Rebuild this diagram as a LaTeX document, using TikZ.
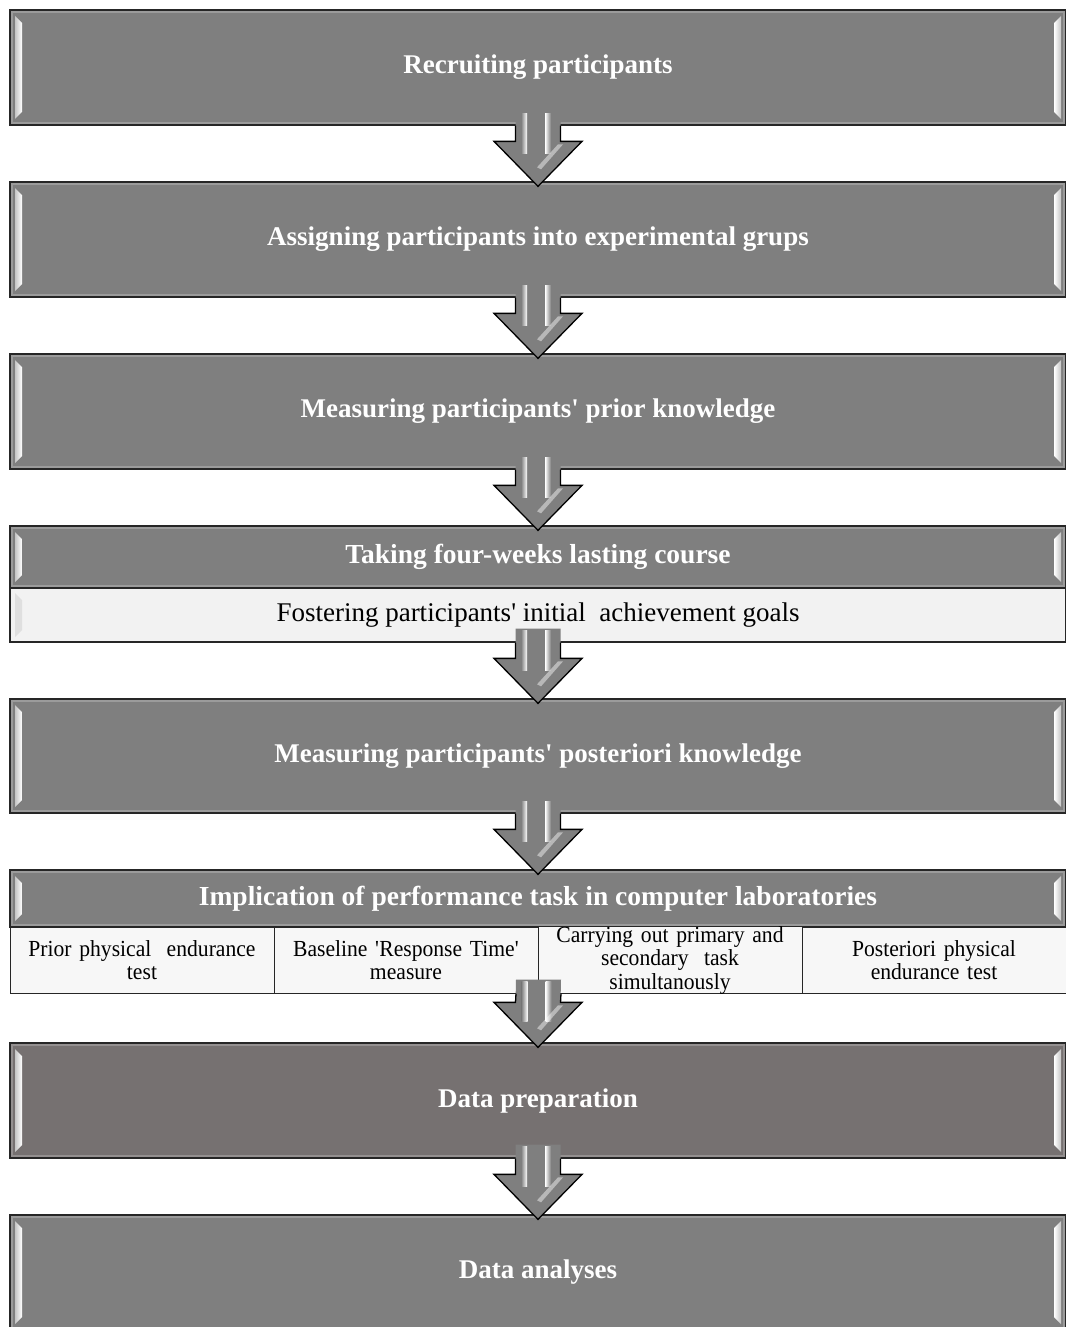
\documentclass[tikz,border=0pt]{standalone}
\usepackage{fontspec}
\setmainfont{Liberation Serif}
\newfontfamily\cellfont[FakeStretch=0.94]{Liberation Serif}
\usetikzlibrary{calc}
\definecolor{boxgray}{RGB}{127,127,127}
\definecolor{prepgray}{RGB}{118,113,113}
\definecolor{subgray}{RGB}{242,242,242}
\definecolor{edgegray}{RGB}{38,38,38}
\newcommand\q{\textquotesingle}
\newcommand\boxbevel{%
  \draw[line width=3pt, draw=white, opacity=0.22]
    ([shift={(1.5,1.5)}]path picture bounding box.north west) rectangle
    ([shift={(-1.5,-1.5)}]path picture bounding box.south east);
  \shade[left color=white!55!gray, right color=white]
    ([shift={(5,6)}]path picture bounding box.north west) --
    ([shift={(12,13)}]path picture bounding box.north west) --
    ([shift={(12,-13)}]path picture bounding box.south west) --
    ([shift={(5,-6)}]path picture bounding box.south west) -- cycle;
  \shade[right color=white!55!gray, left color=white]
    ([shift={(-5,6)}]path picture bounding box.north east) --
    ([shift={(-12,13)}]path picture bounding box.north east) --
    ([shift={(-12,-13)}]path picture bounding box.south east) --
    ([shift={(-5,-6)}]path picture bounding box.south east) -- cycle;
}
\newcommand\lightbevel{%
  \shade[left color=subgray!92!black, right color=white]
    ([shift={(5,5)}]path picture bounding box.north west) --
    ([shift={(12,12)}]path picture bounding box.north west) --
    ([shift={(12,-12)}]path picture bounding box.south west) --
    ([shift={(5,-5)}]path picture bounding box.south west) -- cycle;
}
% block arrow between two points (start = bottom of upper box, end = top of lower box)
\newcommand\blockarrow[2]{%
  \path #1 coordinate (as) #2 coordinate (at);
  \fill[boxgray]
    ($(as)+(-22.5,-14)$) -- ($(at)+(-22.5,-40)$) -- ($(at)+(-44,-40)$) --
    ($(at)+(0,5)$) -- ($(at)+(44,-40)$) -- ($(at)+(22.5,-40)$) --
    ($(as)+(22.5,-14)$) -- cycle;
  \shade[left color=boxgray, right color=white]
    ($(as)+(-17,-12)$) rectangle ($(as)+(-11,28)$);
  \shade[left color=white, right color=boxgray]
    ($(as)+(7,-12)$) rectangle ($(as)+(13,28)$);
  \fill[white, opacity=0.45]
    ($(at)+(20,-37)$) -- ($(at)+(25,-37)$) -- ($(at)+(3,-12)$) -- ($(at)+(-1,-14)$) -- cycle;
  \draw[arrowline]
    ($(as)+(-22.5,0)$) -- ($(at)+(-22.5,-40)$) -- ($(at)+(-44,-40)$) --
    ($(at)+(0,5)$) -- ($(at)+(44,-40)$) -- ($(at)+(22.5,-40)$) --
    ($(as)+(22.5,0)$);
}
\begin{document}
\begin{tikzpicture}[x=1pt, y=-1pt,
  basebox/.style={draw=edgegray, line width=1.3pt, inner sep=0pt, align=center},
  mainbox/.style={basebox, fill=boxgray, text=white,
    font=\bfseries\fontsize{27}{32}\selectfont,
    minimum width=1056pt, minimum height=115pt, path picture={\boxbevel}},
  headbox/.style={mainbox, font=\bfseries\fontsize{27.5}{31}\selectfont},
  subbox/.style={basebox, fill=subgray, text=black,
    font=\fontsize{27}{31}\selectfont, minimum width=1056pt,
    path picture={\lightbevel}},
  cellbox/.style={basebox, line width=1pt, fill=white!97!black, text=black,
    font=\cellfont\fontsize{23}{23.5}\selectfont, minimum width=264pt,
    minimum height=66pt, text width=258pt},
  arrowline/.style={draw=black, line width=1.3pt, line join=miter}
]
\useasboundingbox[fill=white] (0,0) rectangle (1065,1327);

\node[mainbox] (b1) at (538,67.5) {Recruiting participants};
\node[mainbox] (b2) at (538,239.5) {Assigning participants into experimental grups};
\node[mainbox] (b3) at (538,411.5) {Measuring participants\q{} prior knowledge};
\node[headbox, minimum height=62pt] (b4h) at (538,557) {Taking four-weeks lasting course};
\node[subbox, minimum height=54pt] (b4s) at (538,615) {Fostering participants\q{} initial\ \ achievement goals};
\node[mainbox, minimum height=114pt] (b5) at (538,756) {Measuring participants\q{} posteriori knowledge};
\node[headbox, minimum height=57pt] (b6h) at (538,898.5) {Implication of performance task in computer laboratories};
\node[cellbox] (c1) at (142,960) {Prior physical\ \ endurance\\test};
\node[cellbox] (c2) at (406,960) {Baseline \q{}Response Time\q{}\\measure};
\node[cellbox] (c3) at (670,960) {Carrying out primary and\\secondary\ \ task\\simultanously};
\node[cellbox] (c4) at (934,960) {Posteriori physical\\endurance test};
\coordinate (b6bot) at (c2.south east);
\node[mainbox, fill=prepgray] (b7) at (538,1100.5) {Data preparation};
\node[mainbox] (b8) at (538,1272.5) {Data analyses};

\blockarrow{(b1.south)}{(b2.north)}
\blockarrow{(b2.south)}{(b3.north)}
\blockarrow{(b3.south)}{(b4h.north)}
\blockarrow{(b4s.south)}{(b5.north)}
\blockarrow{(b5.south)}{(b6h.north)}
\blockarrow{(b6bot)}{(b7.north)}
\blockarrow{(b7.south)}{(b8.north)}
\end{tikzpicture}
\end{document}
